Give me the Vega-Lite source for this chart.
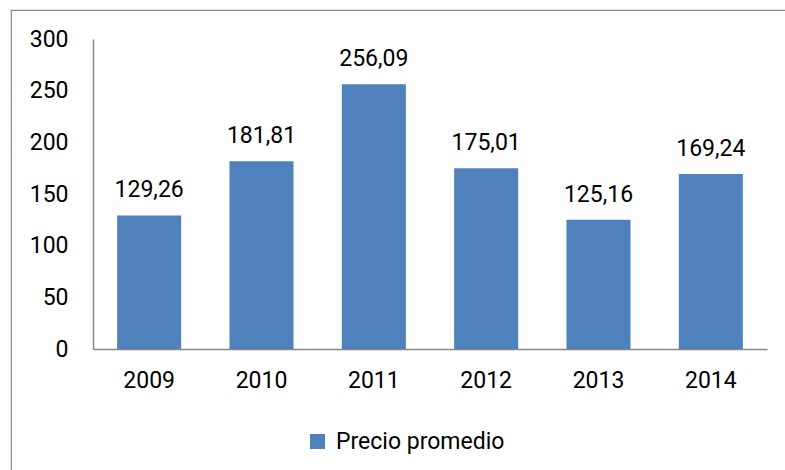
{
  "$schema": "https://vega.github.io/schema/vega-lite/v6.json",
  "width": 790,
  "height": 470,
  "autosize": {"type": "none"},
  "padding": {"left": 11, "top": 10, "right": 0, "bottom": 0},
  "background": "white",
  "config": {
    "view": {"stroke": "#8a8a8a", "strokeWidth": 1.2},
    "font": "Roboto",
    "locale": {"number": {"decimal": ",", "thousands": ".", "grouping": [3], "currency": ["", ""]}}
  },
  "data": {
    "values": [
      {"year": "2009", "price": 129.26, "series": "Precio promedio"},
      {"year": "2010", "price": 181.81, "series": "Precio promedio"},
      {"year": "2011", "price": 256.09, "series": "Precio promedio"},
      {"year": "2012", "price": 175.01, "series": "Precio promedio"},
      {"year": "2013", "price": 125.16, "series": "Precio promedio"},
      {"year": "2014", "price": 169.24, "series": "Precio promedio"}
    ]
  },
  "encoding": {
    "x": {
      "field": "year", "type": "nominal",
      "scale": {"range": [82, 756], "paddingInner": 0.43, "paddingOuter": 0.215},
      "axis": {
        "title": null, "labelAngle": 0, "ticks": false, "labelPadding": 20, "offset": -131,
        "labelFontSize": 23, "labelColor": "#000000", "domainColor": "#888888", "domainWidth": 1.5,
        "labelFont": "Roboto"
      }
    },
    "y": {
      "field": "price", "type": "quantitative",
      "scale": {"domain": [0, 300], "nice": false, "range": [339, 29]},
      "axis": {
        "title": null, "values": [0, 50, 100, 150, 200, 250, 300], "grid": false, "ticks": false,
        "offset": -82, "labelPadding": 25, "labelFontSize": 23, "labelColor": "#000000",
        "domainColor": "#888888", "domainWidth": 1.5, "labelFont": "Roboto"
      }
    }
  },
  "layer": [
    {
      "mark": {"type": "bar", "color": "#4F81BD"},
      "encoding": {
        "color": {
          "field": "series", "type": "nominal",
          "scale": {"range": ["#4F81BD"]},
          "legend": {
            "title": null, "orient": "none", "legendX": 295, "legendY": 420,
            "symbolType": "square", "symbolSize": 225, "symbolStrokeWidth": 0,
            "labelFontSize": 23, "labelColor": "#000000", "labelFont": "Roboto", "labelOffset": 7,
            "labelLimit": 400
          }
        }
      }
    },
    {
      "mark": {"type": "text", "baseline": "alphabetic", "dy": -18, "fontSize": 23, "color": "#000000", "font": "Roboto"},
      "encoding": {
        "text": {"field": "price", "type": "quantitative", "format": ".2f"}
      }
    }
  ]
}
